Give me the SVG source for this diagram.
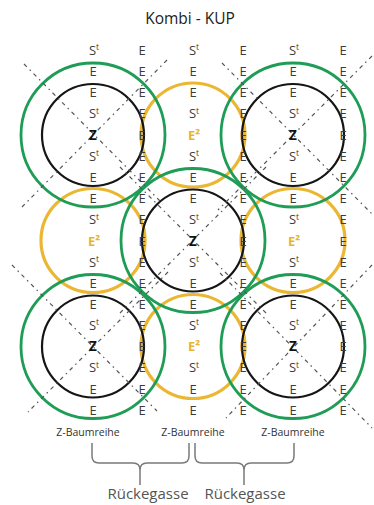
<svg xmlns="http://www.w3.org/2000/svg" width="374" height="505" viewBox="0 0 374 505">
<style>
text{font-family:"Open Sans","Liberation Sans",sans-serif;text-anchor:middle}
.t{font-size:13px;fill:#3c3c3c}
.sup{font-size:8.5px}
.z{font-size:13.5px;font-weight:bold;fill:#111}
.e2{font-size:13px;font-weight:bold;fill:#e6b52c}
.blk{fill:none;stroke:#151515;stroke-width:2.2}
.grn{fill:none;stroke:#1f9c55;stroke-width:2.8}
.yel{fill:none;stroke:#ebb733;stroke-width:3.2}
.dd{fill:none;stroke:#555;stroke-width:1.2;stroke-dasharray:4 4 1.5 4}
.br{fill:none;stroke:#7a7a7a;stroke-width:1.5}
.lbl{font-size:10.5px;fill:#333}
.rg{font-size:15px;fill:#555}
</style>
<rect width="374" height="505" fill="#fff"/>
<text x="190" y="24" font-size="15.5" fill="#222">Kombi - KUP</text>

<g id="yellow-circles">
<circle id="e2-top" class="yel" cx="193" cy="135" r="52"/>
<circle id="e2-left" class="yel" cx="93" cy="240.5" r="52"/>
<circle id="e2-right" class="yel" cx="293" cy="240.5" r="52"/>
<circle id="e2-bottom" class="yel" cx="193" cy="346.5" r="52"/>
</g>
<g id="tree-tl"><circle class="grn" cx="93" cy="135" r="72"/><circle class="blk" cx="93" cy="135" r="51"/></g>
<g id="tree-tr"><circle class="grn" cx="293" cy="135" r="72"/><circle class="blk" cx="293" cy="135" r="51"/></g>
<g id="tree-c"><circle class="grn" cx="193" cy="240.5" r="72"/><circle class="blk" cx="193" cy="240.5" r="51"/></g>
<g id="tree-bl"><circle class="grn" cx="93" cy="346.5" r="72"/><circle class="blk" cx="93" cy="346.5" r="51"/></g>
<g id="tree-br"><circle class="grn" cx="293" cy="346.5" r="72"/><circle class="blk" cx="293" cy="346.5" r="51"/></g>

<g id="connectors">
<path class="dd" d="M24 64L163 204M167 60L21 208"/>
<path class="dd" d="M222 63L372 214M372 56L218 210"/>
<path class="dd" d="M120 167L266 313M266 167L120 313"/>
<path class="dd" d="M12 265L157 411M168 272L28 412"/>
<path class="dd" d="M220 273L372 428M372 265L226 418"/>
</g>

<g id="col1">
<text class="t" x="94" y="54.5">S<tspan class="sup" dy="-4.5">t</tspan></text>
<text class="t" x="93" y="75.5">E</text>
<text class="t" x="93" y="97">E</text>
<text class="t" x="94" y="118">S<tspan class="sup" dy="-4.5">t</tspan></text>
<text class="z" x="93" y="139.5">Z</text>
<text class="t" x="94" y="160.5">S<tspan class="sup" dy="-4.5">t</tspan></text>
<text class="t" x="93" y="181.5">E</text>
<text class="t" x="93" y="202.5">E</text>
<text class="t" x="94" y="224">S<tspan class="sup" dy="-4.5">t</tspan></text>
<text class="e2" x="94" y="245.5">E²</text>
<text class="t" x="94" y="266.5">S<tspan class="sup" dy="-4.5">t</tspan></text>
<text class="t" x="93" y="287.5">E</text>
<text class="t" x="93" y="308.5">E</text>
<text class="t" x="94" y="329.5">S<tspan class="sup" dy="-4.5">t</tspan></text>
<text class="z" x="93" y="351">Z</text>
<text class="t" x="94" y="372">S<tspan class="sup" dy="-4.5">t</tspan></text>
<text class="t" x="93" y="393.5">E</text>
<text class="t" x="93" y="414.5">E</text>
</g>
<g id="col3">
<text class="t" x="194" y="54.5">S<tspan class="sup" dy="-4.5">t</tspan></text>
<text class="t" x="193" y="75.5">E</text>
<text class="t" x="193" y="97">E</text>
<text class="t" x="194" y="118">S<tspan class="sup" dy="-4.5">t</tspan></text>
<text class="e2" x="194" y="139.5">E²</text>
<text class="t" x="194" y="160.5">S<tspan class="sup" dy="-4.5">t</tspan></text>
<text class="t" x="193" y="181.5">E</text>
<text class="t" x="193" y="202.5">E</text>
<text class="t" x="194" y="224">S<tspan class="sup" dy="-4.5">t</tspan></text>
<text class="z" x="193" y="245.5">Z</text>
<text class="t" x="194" y="266.5">S<tspan class="sup" dy="-4.5">t</tspan></text>
<text class="t" x="193" y="287.5">E</text>
<text class="t" x="193" y="308.5">E</text>
<text class="t" x="194" y="329.5">S<tspan class="sup" dy="-4.5">t</tspan></text>
<text class="e2" x="194" y="351">E²</text>
<text class="t" x="194" y="372">S<tspan class="sup" dy="-4.5">t</tspan></text>
<text class="t" x="193" y="393.5">E</text>
<text class="t" x="193" y="414.5">E</text>
</g>
<g id="col5">
<text class="t" x="294" y="54.5">S<tspan class="sup" dy="-4.5">t</tspan></text>
<text class="t" x="293" y="75.5">E</text>
<text class="t" x="293" y="97">E</text>
<text class="t" x="294" y="118">S<tspan class="sup" dy="-4.5">t</tspan></text>
<text class="z" x="293" y="139.5">Z</text>
<text class="t" x="294" y="160.5">S<tspan class="sup" dy="-4.5">t</tspan></text>
<text class="t" x="293" y="181.5">E</text>
<text class="t" x="293" y="202.5">E</text>
<text class="t" x="294" y="224">S<tspan class="sup" dy="-4.5">t</tspan></text>
<text class="e2" x="294" y="245.5">E²</text>
<text class="t" x="294" y="266.5">S<tspan class="sup" dy="-4.5">t</tspan></text>
<text class="t" x="293" y="287.5">E</text>
<text class="t" x="293" y="308.5">E</text>
<text class="t" x="294" y="329.5">S<tspan class="sup" dy="-4.5">t</tspan></text>
<text class="z" x="293" y="351">Z</text>
<text class="t" x="294" y="372">S<tspan class="sup" dy="-4.5">t</tspan></text>
<text class="t" x="293" y="393.5">E</text>
<text class="t" x="293" y="414.5">E</text>
</g>
<g id="col2">
<text class="t" x="142" y="54.5">E</text><text class="t" x="142" y="75.5">E</text><text class="t" x="142" y="97">E</text><text class="t" x="142" y="118">E</text><text class="t" x="142" y="139.5">E</text><text class="t" x="142" y="160.5">E</text><text class="t" x="142" y="181.5">E</text><text class="t" x="142" y="202.5">E</text><text class="t" x="142" y="224">E</text><text class="t" x="142" y="245.5">E</text><text class="t" x="142" y="266.5">E</text><text class="t" x="142" y="287.5">E</text><text class="t" x="142" y="308.5">E</text><text class="t" x="142" y="329.5">E</text><text class="t" x="142" y="351">E</text><text class="t" x="142" y="372">E</text><text class="t" x="142" y="393.5">E</text><text class="t" x="142" y="414.5">E</text>
</g>
<g id="col4">
<text class="t" x="243" y="54.5">E</text><text class="t" x="243" y="75.5">E</text><text class="t" x="243" y="97">E</text><text class="t" x="243" y="118">E</text><text class="t" x="243" y="139.5">E</text><text class="t" x="243" y="160.5">E</text><text class="t" x="243" y="181.5">E</text><text class="t" x="243" y="202.5">E</text><text class="t" x="243" y="224">E</text><text class="t" x="243" y="245.5">E</text><text class="t" x="243" y="266.5">E</text><text class="t" x="243" y="287.5">E</text><text class="t" x="243" y="308.5">E</text><text class="t" x="243" y="329.5">E</text><text class="t" x="243" y="351">E</text><text class="t" x="243" y="372">E</text><text class="t" x="243" y="393.5">E</text><text class="t" x="243" y="414.5">E</text>
</g>
<g id="col6">
<text class="t" x="343" y="54.5">E</text><text class="t" x="343" y="75.5">E</text><text class="t" x="343" y="97">E</text><text class="t" x="343" y="118">E</text><text class="t" x="343" y="139.5">E</text><text class="t" x="343" y="160.5">E</text><text class="t" x="343" y="181.5">E</text><text class="t" x="343" y="202.5">E</text><text class="t" x="343" y="224">E</text><text class="t" x="343" y="245.5">E</text><text class="t" x="343" y="266.5">E</text><text class="t" x="343" y="287.5">E</text><text class="t" x="343" y="308.5">E</text><text class="t" x="343" y="329.5">E</text><text class="t" x="343" y="351">E</text><text class="t" x="343" y="372">E</text><text class="t" x="343" y="393.5">E</text><text class="t" x="343" y="414.5">E</text>
</g>

<g id="row-labels">
<text class="lbl" x="88" y="435.5">Z-Baumreihe</text>
<text class="lbl" x="193" y="435.5">Z-Baumreihe</text>
<text class="lbl" x="293" y="435.5">Z-Baumreihe</text>
</g>
<g id="braces">
<path class="br" d="M92 443V456Q92 463 99 463H133Q140 463 140 470Q140 463 147 463H182Q189 463 189 456V443M140 470V485"/>
<path class="br" d="M195 443V456Q195 463 202 463H237Q244 463 244 470Q244 463 251 463H287Q294 463 294 456V443M244 470V485"/>
</g>
<g id="rueckegasse">
<text class="rg" x="148" y="499">Rückegasse</text>
<text class="rg" x="245" y="499">Rückegasse</text>
</g>
</svg>
